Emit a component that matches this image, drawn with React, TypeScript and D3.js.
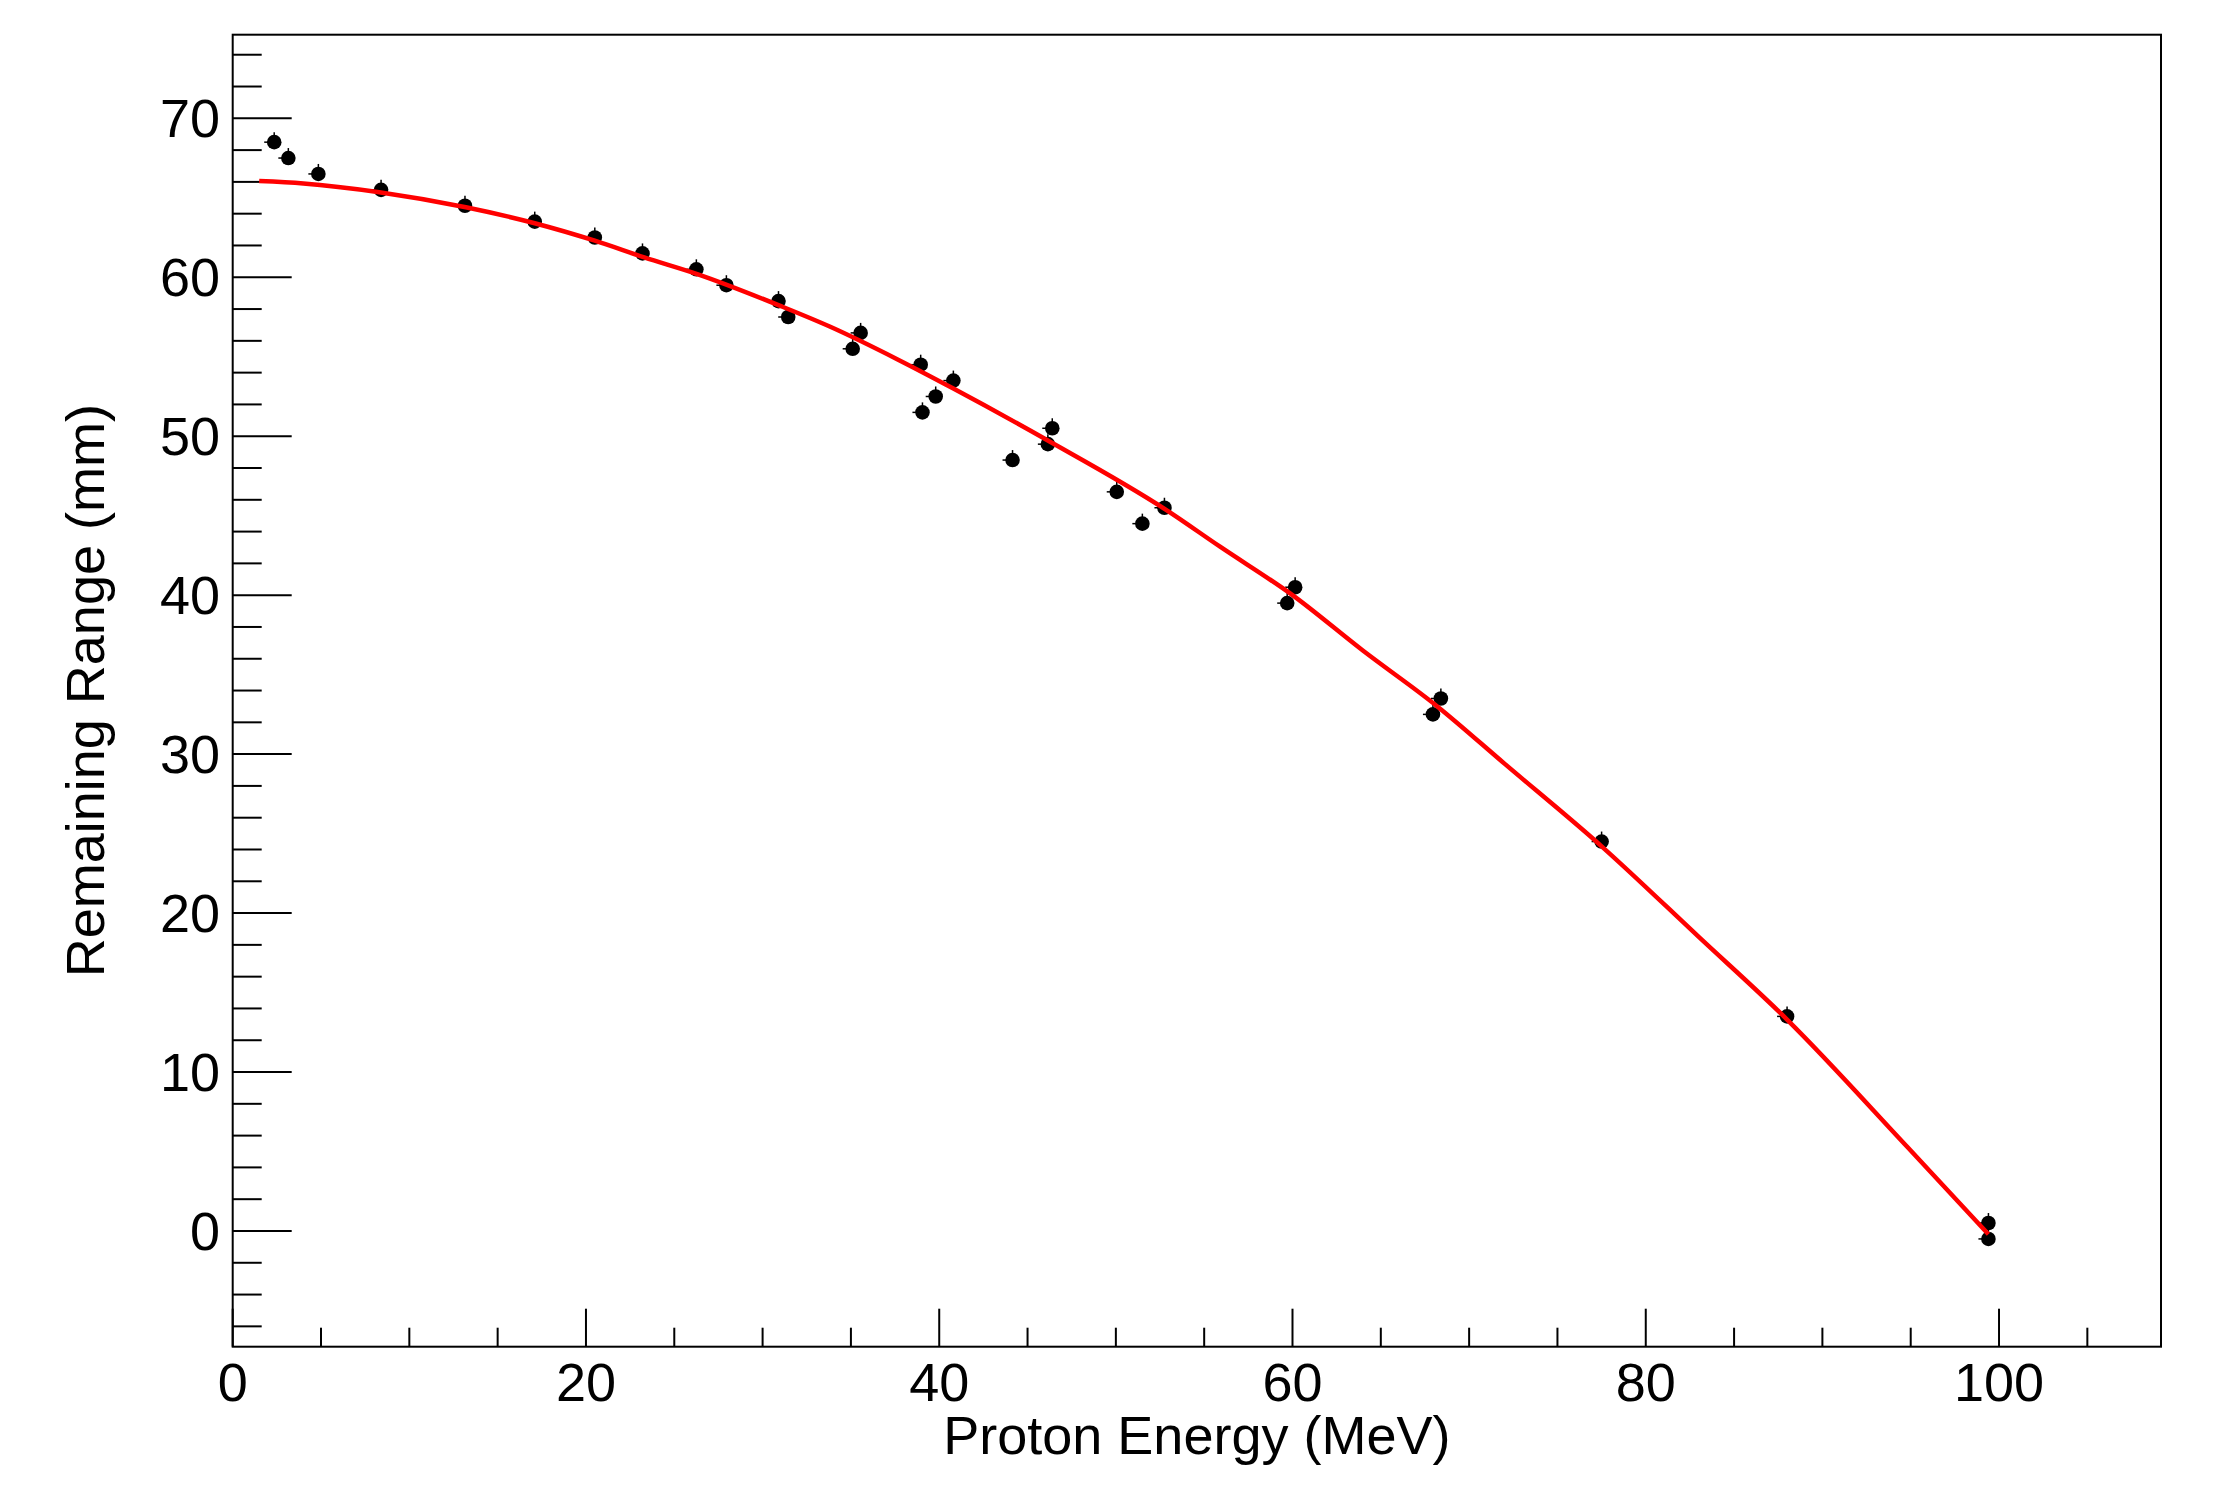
import { useEffect, useRef } from 'react'
import * as d3 from 'd3'

// measured points: proton energy (MeV) vs remaining range (mm)
const energy = [
  2.35, 3.15, 4.85, 8.4, 13.15, 17.1, 20.5, 23.2, 26.25, 27.95, 30.9, 31.45,
  35.1, 35.55, 38.95, 39.05, 39.8, 40.8, 44.15, 46.15, 46.4, 50.05, 51.5, 52.75,
  59.7, 60.15, 67.95, 68.4, 77.5, 88.0, 99.4, 99.4,
]
const range = [
  68.5, 67.5, 66.5, 65.5, 64.5, 63.5, 62.5, 61.5, 60.5, 59.5, 58.5, 57.5,
  55.5, 56.5, 54.5, 51.5, 52.5, 53.5, 48.5, 49.5, 50.5, 46.5, 44.5, 45.5,
  39.5, 40.5, 32.5, 33.5, 24.5, 13.5, 0.5, -0.5,
]

// fit curve
const fitEnergy = [
  1.5, 4.0, 8.3, 13.2, 17.1, 20.5, 23.3, 26.3, 31.0, 33.8, 37.7, 40.8, 46.2,
  52.8, 55.9, 60.0, 64.0, 68.2, 72.0, 77.5, 83.0, 88.0, 94.8, 99.4,
]
const fitRange = [
  66.05, 65.9, 65.35, 64.4, 63.4, 62.3, 61.25, 60.2, 58.2, 56.9, 54.8, 53.0, 49.7,
  45.4, 43.05, 40.0, 36.5, 33.0, 29.4, 24.2, 18.5, 13.3, 5.3, -0.2,
]

const xMajorTicks = [0, 20, 40, 60, 80, 100]
const yMajorTicks = [0, 10, 20, 30, 40, 50, 60, 70]

const xTitle = 'Proton Energy (MeV)'
const yTitle = 'Remaining Range (mm)'

export default function App() {
  const svgRef = useRef<SVGSVGElement>(null)
  const width = 2228
  const height = 1496
  const frame = { left: 232.7, right: 2161, top: 34.7, bottom: 1346.7 }

  useEffect(() => {
    if (!svgRef.current) return
    const svg = d3.select(svgRef.current)
    svg.selectAll('*').remove()

    const x = d3.scaleLinear().domain([0, 109.17]).range([frame.left, frame.right])
    const y = d3.scaleLinear().domain([-7.28, 75.26]).range([frame.bottom, frame.top])

    const font = "'Liberation Sans', Arial, Helvetica, sans-serif"

    svg.append('rect')
      .attr('width', width)
      .attr('height', height)
      .attr('fill', 'white')

    // x ticks (drawn upward from the bottom edge)
    const xMinor = d3.range(0, 109, 5).filter(v => !xMajorTicks.includes(v))
    const gx = svg.append('g').attr('stroke', 'black').attr('stroke-width', 2)
    xMajorTicks.forEach(v => {
      gx.append('line')
        .attr('x1', x(v)).attr('x2', x(v))
        .attr('y1', frame.bottom).attr('y2', frame.bottom - 38)
    })
    xMinor.forEach(v => {
      gx.append('line')
        .attr('x1', x(v)).attr('x2', x(v))
        .attr('y1', frame.bottom).attr('y2', frame.bottom - 19)
    })

    // y ticks (drawn rightward from the left edge)
    const yMinor = d3.range(-6, 76, 2).filter(v => !yMajorTicks.includes(v))
    const gy = svg.append('g').attr('stroke', 'black').attr('stroke-width', 2)
    yMajorTicks.forEach(v => {
      gy.append('line')
        .attr('x1', frame.left).attr('x2', frame.left + 59)
        .attr('y1', y(v)).attr('y2', y(v))
    })
    yMinor.forEach(v => {
      gy.append('line')
        .attr('x1', frame.left).attr('x2', frame.left + 29)
        .attr('y1', y(v)).attr('y2', y(v))
    })

    // tick labels
    svg.append('g')
      .selectAll('text')
      .data(xMajorTicks)
      .join('text')
      .attr('x', d => x(d))
      .attr('y', frame.bottom + 54)
      .attr('text-anchor', 'middle')
      .attr('font-family', font)
      .attr('font-size', 54)
      .text(d => d.toString())

    svg.append('g')
      .selectAll('text')
      .data(yMajorTicks)
      .join('text')
      .attr('x', 220)
      .attr('y', d => y(d) + 19)
      .attr('text-anchor', 'end')
      .attr('font-family', font)
      .attr('font-size', 54)
      .text(d => d.toString())

    // axis titles
    svg.append('text')
      .attr('x', (frame.left + frame.right) / 2)
      .attr('y', 1454)
      .attr('text-anchor', 'middle')
      .attr('font-family', font)
      .attr('font-size', 54)
      .text(xTitle)

    svg.append('text')
      .attr('transform', `translate(104,${(frame.top + frame.bottom) / 2}) rotate(-90)`)
      .attr('text-anchor', 'middle')
      .attr('font-family', font)
      .attr('font-size', 54)
      .text(yTitle)

    // data markers
    const pts = energy.map((e, i) => ({ e, r: range[i] }))
    const gp = svg.append('g')
    pts.forEach(p => {
      const cx = x(p.e)
      const cy = y(p.r)
      gp.append('line')
        .attr('x1', cx).attr('x2', cx)
        .attr('y1', cy - 10).attr('y2', cy)
        .attr('stroke', 'black').attr('stroke-width', 1.5)
      gp.append('line')
        .attr('x1', cx - 10).attr('x2', cx)
        .attr('y1', cy).attr('y2', cy)
        .attr('stroke', 'black').attr('stroke-width', 1.5)
      gp.append('circle')
        .attr('cx', cx)
        .attr('cy', cy)
        .attr('r', 7.3)
        .attr('fill', 'black')
    })

    // fit curve
    const fit = fitEnergy.map((e, i) => ({ e, r: fitRange[i] }))
    const line = d3.line<{ e: number; r: number }>()
      .x(d => x(d.e))
      .y(d => y(d.r))
      .curve(d3.curveMonotoneX)
    svg.append('path')
      .datum(fit)
      .attr('fill', 'none')
      .attr('stroke', '#ff0000')
      .attr('stroke-width', 4.5)
      .attr('d', line)

    // frame
    svg.append('rect')
      .attr('x', frame.left)
      .attr('y', frame.top)
      .attr('width', frame.right - frame.left)
      .attr('height', frame.bottom - frame.top)
      .attr('fill', 'none')
      .attr('stroke', 'black')
      .attr('stroke-width', 2)
  }, [])

  return (
    <div style={{ position: 'absolute', left: 0, top: 0 }}>
      <svg ref={svgRef} width={width} height={height} style={{ display: 'block' }} />
    </div>
  )
}
